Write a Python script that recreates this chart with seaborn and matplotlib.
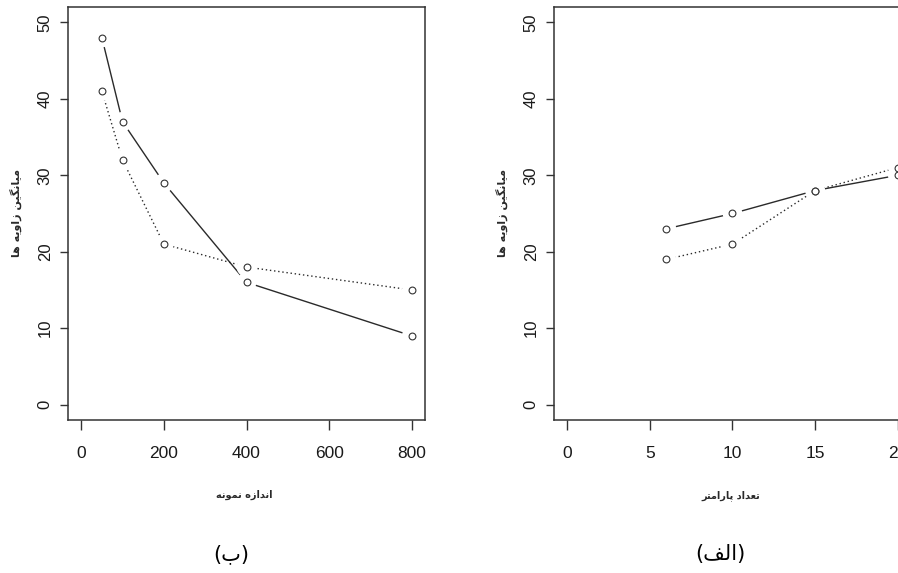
import numpy as np
import pandas as pd
import matplotlib
matplotlib.use("Agg")
import matplotlib.pyplot as plt
import seaborn as sns

# panel (b): sample size
size_x = [50, 100, 200, 400, 800]
size_solid = [48, 37, 29, 16, 9]
size_dotted = [41, 32, 21, 18, 15]

# panel (a): number of parameters
param_x = [6, 10, 15, 20]
param_solid = [23, 25, 28, 30]
param_dotted = [19, 21, 28, 31]

y_label = "میانگین زاویه ها"
x_label_b = "اندازه نمونه"
x_label_a = "تعداد پارامتر"
caption_b = "ب"
caption_a = "الف"

# arabic presentation forms: isolated, final, initial, medial
FORMS = {
    "ا": (0xFE8D, 0xFE8E, None, None),
    "ب": (0xFE8F, 0xFE90, 0xFE91, 0xFE92),
    "پ": (0xFB56, 0xFB57, 0xFB58, 0xFB59),
    "ت": (0xFE95, 0xFE96, 0xFE97, 0xFE98),
    "د": (0xFEA9, 0xFEAA, None, None),
    "ر": (0xFEAD, 0xFEAE, None, None),
    "ز": (0xFEAF, 0xFEB0, None, None),
    "ع": (0xFEC9, 0xFECA, 0xFECB, 0xFECC),
    "ف": (0xFED1, 0xFED2, 0xFED3, 0xFED4),
    "گ": (0xFB92, 0xFB93, 0xFB94, 0xFB95),
    "ل": (0xFEDD, 0xFEDE, 0xFEDF, 0xFEE0),
    "م": (0xFEE1, 0xFEE2, 0xFEE3, 0xFEE4),
    "ن": (0xFEE5, 0xFEE6, 0xFEE7, 0xFEE8),
    "و": (0xFEED, 0xFEEE, None, None),
    "ه": (0xFEE9, 0xFEEA, 0xFEEB, 0xFEEC),
    "ی": (0xFBFC, 0xFBFD, 0xFBFE, 0xFBFF),
}


def shape(text):                       # join letters and put them in visual order
    out = []
    for i, ch in enumerate(text):
        if ch not in FORMS:
            out.append(ch)
            continue
        prev = text[i - 1] if i > 0 else " "
        nxt = text[i + 1] if i + 1 < len(text) else " "
        joins_prev = prev in FORMS and FORMS[prev][2] is not None
        joins_next = nxt in FORMS and FORMS[ch][2] is not None
        iso, fin, ini, med = FORMS[ch]
        if joins_prev and joins_next:
            code = med
        elif joins_prev:
            code = fin
        elif joins_next:
            code = ini
        else:
            code = iso
        out.append(chr(code))
    return "".join(reversed(out))


sns.set_theme(style="white")
plt.rcParams["font.family"] = ["Liberation Sans", "DejaVu Sans"]

fig = plt.figure(figsize=(8.98, 5.73), dpi=100)
ax_b = fig.add_axes([0.0757, 0.267, 0.3976, 0.7208])
ax_a = fig.add_axes([0.6169, 0.267, 0.3976, 0.7208])

ink = "#2a2a2a"


def draw_panel(ax, xs, solid, dotted, xlim, xticks, xlabel, caption, cap_x):
    df = pd.DataFrame({
        "x": xs + xs,
        "y": solid + dotted,
        "series": ["solid"] * len(xs) + ["dotted"] * len(xs),
    })
    sns.lineplot(data=df, x="x", y="y", style="series",
                 dashes={"solid": "", "dotted": (1, 2)},
                 color=ink, linewidth=1.0, legend=False, ax=ax)
    # gaps around the points, like R type="b"
    sns.scatterplot(data=df, x="x", y="y", s=200, color="white",
                    edgecolor="none", legend=False, ax=ax, zorder=3)
    sns.scatterplot(data=df, x="x", y="y", s=24, marker="o",
                    facecolor="white", edgecolor="#333333", linewidth=0.8,
                    legend=False, ax=ax, zorder=4)

    ax.set_xlim(*xlim)
    ax.set_ylim(-2, 52)
    ax.set_xticks(xticks)
    ax.set_yticks([0, 10, 20, 30, 40, 50])
    for s in ax.spines.values():
        s.set_visible(True)
        s.set_color("#333333")
        s.set_linewidth(1.1)
    ax.tick_params(axis="both", direction="out", color="#333333",
                   width=1.0, left=True, bottom=True, labelcolor="#1a1a1a")
    ax.tick_params(axis="y", length=6, pad=5, labelsize=12)
    ax.tick_params(axis="x", length=7.5, pad=11, labelsize=12.5)
    for t in ax.get_yticklabels():
        t.set_rotation(90)
        t.set_va("center")
    for t in ax.get_xticklabels():
        t.set_family(["Liberation Sans Narrow", "Liberation Sans"])
    ax.set_xlabel("")
    ax.set_ylabel("")
    ax.text(-0.147, 0.5, shape(y_label), transform=ax.transAxes,
            rotation=90, ha="center", va="center", fontsize=8,
            fontweight="bold", family=["DejaVu Sans"], color=ink)
    ax.text(0.495, -0.182, shape(xlabel), transform=ax.transAxes,
            ha="center", va="center", fontsize=7, fontweight="bold",
            family=["DejaVu Sans"], color=ink)
    fig.text(cap_x, 1 - 554 / 573, "(" + shape(caption) + ")",
             ha="center", va="center", fontsize=15,
             family=["DejaVu Sans"], color="black")


draw_panel(ax_b, size_x, size_solid, size_dotted, (-32, 832),
           [0, 200, 400, 600, 800], x_label_b, caption_b, 231 / 898)
draw_panel(ax_a, param_x, param_solid, param_dotted, (-0.8, 20.8),
           [0, 5, 10, 15, 20], x_label_a, caption_a, 720 / 898)

fig.savefig("out.png", dpi=100, facecolor="white")
